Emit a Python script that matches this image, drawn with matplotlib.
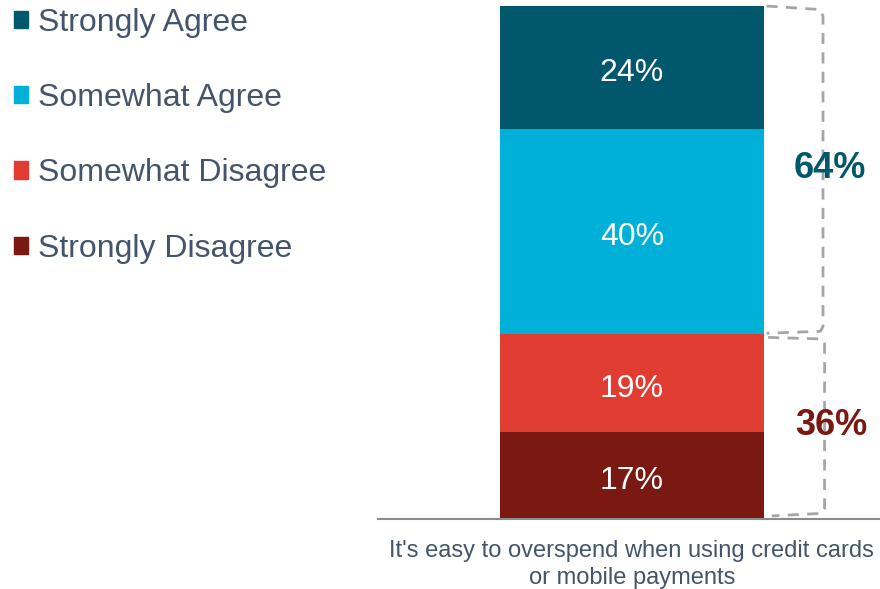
import matplotlib.pyplot as plt
from matplotlib.patches import Patch

plt.rcParams['font.family'] = ['Liberation Sans', 'DejaVu Sans']

category = "It's easy to overspend when using credit cards\nor mobile payments"
labels = ['Strongly Disagree', 'Somewhat Disagree', 'Somewhat Agree', 'Strongly Agree']
values = [17, 19, 40, 24]
colors = ['#7A1812', '#E03C31', '#00B0D8', '#01576B']
agree_total = 64
disagree_total = 36

text_col = '#44546A'
gray = '#A6A6A6'

fig = plt.figure(figsize=(8.8, 5.89), dpi=100)
ax = fig.add_axes([378 / 880, 70 / 589, 502 / 880, 513 / 589])

bottom = 0
for lab, v, c in zip(labels, values, colors):
    ax.bar(0, v, width=0.5, bottom=bottom, color=c, label=lab)
    ax.text(0, bottom + v / 2 - 0.4, f'{v}%', ha='center', va='center_baseline',
            color='white', fontsize=23)
    bottom += v

ax.set_xlim(-0.481, 0.470)
ax.set_ylim(0, 100)

# dashed brackets
split = values[0] + values[1]
ax.plot([0.255, 0.357, 0.362, 0.362, 0.357, 0.255],
        [100, 99.3, 98.0, 37.5, 36.6, 36.2],
        color=gray, ls='--', lw=2, dashes=(4, 3), clip_on=False)
ax.plot([0.258, 0.36, 0.365, 0.365, 0.36, 0.265],
        [split - 0.6, split - 0.9, split - 1.8, 2.0, 1.1, 0.6],
        color=gray, ls='--', lw=2, dashes=(4, 3), clip_on=False)

ax.text(0.375, (split + 100) / 2 + 0.4, f'{agree_total}%', ha='center', va='center',
        color=colors[3], fontsize=26, fontweight='bold')
ax.text(0.378, split / 2 + 0.2, f'{disagree_total}%', ha='center', va='center',
        color=colors[0], fontsize=26, fontweight='bold')

for s in ['top', 'right', 'left']:
    ax.spines[s].set_visible(False)
ax.spines['bottom'].set_color('#8C8C8C')
ax.spines['bottom'].set_linewidth(1.5)
ax.set_yticks([])
ax.set_xticks([0])
ax.set_xticklabels([category], fontsize=17, color=text_col, linespacing=1.3)
ax.tick_params(axis='x', length=0, pad=15)

handles = [Patch(color=c, label=l) for l, c in zip(labels, colors)][::-1]
fig.legend(handles=handles, loc='upper left', bbox_to_anchor=(0.0155, 0.987),
           frameon=False, fontsize=23, labelcolor=text_col,
           handlelength=0.45, handleheight=0.45, handletextpad=0.3,
           labelspacing=1.42, borderpad=0, borderaxespad=0)

fig.savefig('out.png', dpi=100)
